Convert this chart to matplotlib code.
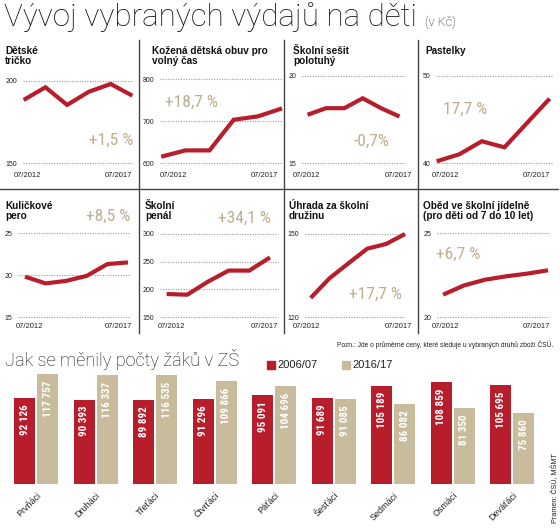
import matplotlib
matplotlib.use("Agg")
import matplotlib.pyplot as plt
from matplotlib import font_manager
import numpy as np

# ---------------- data ----------------
years = ["07/2012", "07/2017"]
panel_titles = [
    "Dětské\ntričko", "Kožená dětská obuv pro\nvolný čas", "Školní sešit\npolotuhý", "Pastelky",
    "Kuličkové\npero", "Školní\npenál", "Úhrada za školní\ndružinu", "Oběd ve školní jídelně\n(pro děti od 7 do 10 let)",
]
tricko = [188.3, 196.0, 185.3, 193.3, 198.0, 190.9]
obuv = [615, 630, 630, 703, 711, 730]
sesit = [17.77, 18.15, 18.15, 18.72, 18.15, 17.67]
pastelky = [40.2, 41.0, 42.5, 41.8, 44.6, 47.4]
pero = [19.8, 19.0, 19.3, 19.9, 21.3, 21.5]
penal = [191.5, 190.3, 213.9, 233.9, 233.9, 257.6]
druzina = [126.9, 134.0, 139.4, 144.7, 146.4, 150.0]
obed = [21.33, 21.88, 22.22, 22.42, 22.58, 22.78]
series = [tricko, obuv, sesit, pastelky, pero, penal, druzina, obed]
yticks = [[150, 200], [600, 700, 800], [15, 20], [40, 50],
          [15, 20, 25], [150, 200, 250, 300], [120, 150], [20, 25]]
pct_labels = ["+1,5 %", "+18,7 %", "-0,7%", "17,7 %", "+8,5 %", "+34,1 %", "+17,7 %", "+6,7 %"]

grades = ["Prvňáci", "Druháci", "Třeťáci", "Čtvrťáci", "Páťáci", "Šesťáci", "Sedmáci", "Osmáci", "Deváťáci"]
pupils_2006 = [92126, 90393, 89892, 91296, 95091, 91689, 105189, 108859, 105695]
pupils_2016 = [117757, 116337, 116535, 109866, 104696, 91085, 86082, 81350, 75860]
legend_labels = ["2006/07", "2016/17"]

# ---------------- style ----------------
RED = "#B81D2C"
TAN = "#C9BC9D"
PCT = "#BCAF8E"
DARK = "#222222"
GRID = "#9a9a9a"
W, H = 560, 532
LIGHT = ["Roboto", "Lato", "Open Sans", "DejaVu Sans"]
SANS = ["Liberation Sans", "DejaVu Sans"]
installed = {f.name for f in font_manager.fontManager.ttflist}
narrow_choices = [n for n in ("Liberation Sans Narrow", "Roboto Condensed", "DejaVu Sans Condensed",
                              "Open Sans Condensed", "Noto Sans Condensed") if n in installed]
NARROW = narrow_choices[:1] + SANS
HAVE_NARROW = bool(narrow_choices)

fig = plt.figure(figsize=(W / 100, H / 100), dpi=100)
fig.patch.set_facecolor("white")


def fx(x):
    return x / W


def fy(y):
    return 1 - y / H


def ftext(x, y, s, **kw):
    return fig.text(fx(x), fy(y), s, **kw)


# layout of panels (pixels): x0, x1, ytop, ybot, left pad, right pad (in data units)
panel_box = [
    (23, 133, 80.7, 163, 0.03, 0.03),
    (160, 282, 79, 163, 0.05, 0.0),
    (302, 405, 76, 163, 0.3, 0.3),
    (436, 553, 76, 163, 0.03, 0.15),
    (18, 129, 233, 317, 0.34, 0.05),
    (160, 278, 234, 317, 0.32, 0.39),
    (305, 405, 234, 317, 0.3, 0.0),
    (437, 548, 233, 317, 0.29, 0.0),
]
title_pos = [(5, 46), (152, 46), (293, 46), (425, 46), (5, 201), (145, 201), (289, 201), (423, 201)]
xlab_pos = [((27, 175.5), (132, 175.5)), ((173, 175.5), (278, 175.5)), ((306, 175.5), (412, 175.5)),
            ((445, 175.5), (550, 175.5)), ((29, 326.5), (132, 326.5)), ((171, 326.5), (278, 326.5)),
            ((306, 326.5), (412, 326.5)), ((445, 326.5), (550, 326.5))]
pct_pos = [(133, 140, "right"), (191, 102, "center"), (372, 141, "center"), (465, 109, "center"),
           (108, 216, "center"), (244, 218, "center"), (375, 294, "center"), (458, 254, "center")]
pct_size = 12.5 if HAVE_NARROW else 11.5

for i, vals in enumerate(series):
    x0, x1, yt, yb, lp, rp = panel_box[i]
    ax = fig.add_axes([fx(x0), fy(yb), (x1 - x0) / W, (yb - yt) / H])
    xs = np.arange(len(vals))
    ax.plot(xs, vals, color=RED, lw=3.0, solid_capstyle="butt", solid_joinstyle="miter", clip_on=False, zorder=3)
    ax.set_xlim(-lp, len(vals) - 1 + rp)
    ax.set_ylim(yticks[i][0], yticks[i][-1])
    for t in yticks[i]:
        ax.axhline(t, color=GRID, lw=0.8, ls=(0, (1, 1.3)), zorder=1, clip_on=False)
    ax.set_yticks(yticks[i])
    ax.set_yticklabels([str(t) for t in yticks[i]], fontsize=5, color=DARK, family=SANS)
    ax.tick_params(axis="y", length=0, pad=4)
    ax.set_xticks([])
    for s in ax.spines.values():
        s.set_visible(False)
    ax.patch.set_alpha(0)
    tx, ty = title_pos[i]
    ftext(tx, ty, panel_titles[i], fontsize=7.2, fontweight="bold", color="#111111", family=SANS,
          ha="left", va="top", linespacing=1.05)
    (lx, ly), (rx, ry) = xlab_pos[i]
    ftext(lx, ly, years[0], fontsize=5.5, color=DARK, family=SANS, ha="center", va="center")
    ftext(rx, ry, years[1], fontsize=5.5, color=DARK, family=SANS, ha="right", va="center")
    px, py, pha = pct_pos[i]
    ftext(px, py, pct_labels[i], fontsize=pct_size, color=PCT, family=NARROW, ha=pha, va="center")

# separators
for xv in (139, 284, 418):
    fig.add_artist(plt.Line2D([fx(xv), fx(xv)], [fy(40), fy(333)], color="#444444", lw=1.0))
fig.add_artist(plt.Line2D([fx(0), fx(558)], [fy(189), fy(189)], color="#444444", lw=1.0))

# titles
ftext(4, 17, "Vývoj vybraných výdajů na děti", fontsize=22.6, fontweight="light", family=LIGHT,
      color="#111111", ha="left", va="center")
ftext(425, 22, "(v Kč)", fontsize=9, fontweight="light", family=LIGHT, color="#111111", ha="left", va="center")
ftext(553, 345, "Pozn.: Jde o průměrné ceny, které sleduje u vybraných druhů zboží ČSÚ.", fontsize=4.8,
      color=DARK, family=SANS, ha="right", va="center")
ftext(5, 360, "Jak se měnily počty žáků v ZŠ", fontsize=13.1, fontweight="light", family=LIGHT,
      color="#111111", ha="left", va="center")
ftext(555, 488, "Pramen: ČSÚ, MŠMT", fontsize=5.2, color=DARK, family=SANS, rotation=90,
      ha="center", va="center")

# bar chart
bx0, bx1, byt, byb = 0.5, 548.2, 370, 484
bax = fig.add_axes([fx(bx0), fy(byb), (bx1 - bx0) / W, (byb - byt) / H])
x = np.arange(len(grades))
bw = 0.353
off = 0.193
b1 = bax.bar(x - off, pupils_2006, width=bw, color=RED, label=legend_labels[0])
b2 = bax.bar(x + off, pupils_2016, width=bw, color=TAN, label=legend_labels[1])
bax.set_xlim(-0.6, len(grades) - 1 + 0.6)
bax.set_ylim(0, 122000)
bar_size = 8.0 if HAVE_NARROW else 7.0
for bars, vals in ((b1, pupils_2006), (b2, pupils_2016)):
    for rect, v in zip(bars, vals):
        lab = f"{v:,}".replace(",", " ")
        bax.annotate(lab, (rect.get_x() + rect.get_width() / 2, v), xytext=(0, -4.5),
                     textcoords="offset points", rotation=90, ha="center", va="top",
                     color="white", fontsize=bar_size, fontweight="bold", family=NARROW)
bax.set_xticks(x)
bax.set_xticklabels(grades, rotation=45, ha="right", rotation_mode="anchor", fontsize=6.5,
                    color=DARK, family=SANS)
bax.tick_params(axis="x", length=0, pad=5)
bax.set_yticks([])
for s in bax.spines.values():
    s.set_visible(False)
bax.patch.set_alpha(0)

# legend
for (lx, col, lab) in ((267, RED, legend_labels[0]), (342, TAN, legend_labels[1])):
    fig.add_artist(plt.Rectangle((fx(lx), fy(369)), 8 / W, 8 / H, color=col, transform=fig.transFigure))
    ftext(lx + 10, 365, lab, fontsize=8, color=DARK, family=SANS, ha="left", va="center")

fig.savefig("out.png", dpi=100, facecolor="white")
